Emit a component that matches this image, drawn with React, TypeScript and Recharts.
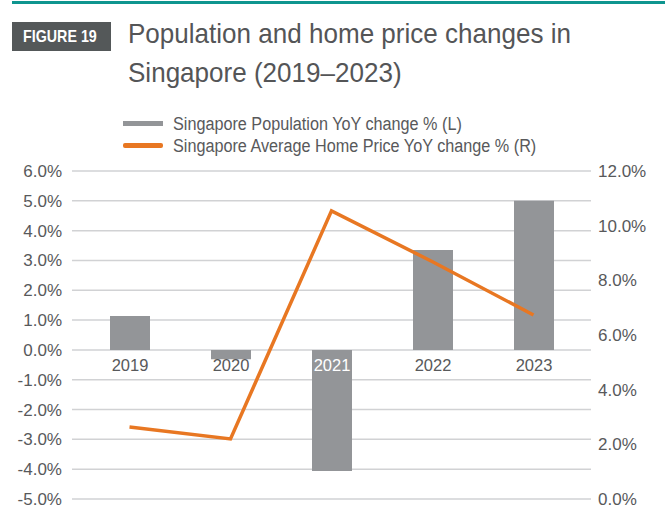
import React from "react";
import {
  ComposedChart,
  Bar,
  Line,
  XAxis,
  YAxis,
  CartesianGrid,
  LabelList,
} from "recharts";

const years = ["2019", "2020", "2021", "2022", "2023"];
const populationChange = [1.14, -0.31, -4.06, 3.35, 5.0];
const homePriceChange = [2.63, 2.2, 10.54, 8.68, 6.73];
const leftTicks = [-5, -4, -3, -2, -1, 0, 1, 2, 3, 4, 5, 6];
const rightTicks = [0, 2, 4, 6, 8, 10, 12];

const data = years.map((year, i) => ({
  year,
  population: populationChange[i],
  price: homePriceChange[i],
}));

const FONT = "'Liberation Sans', Arial, sans-serif";
const TEXT = "#58595b";
const GREY = "#939598";
const ORANGE = "#e87722";

// category names sit just under the zero line, white when inside a bar
function YearLabel(props: any) {
  const { x, y, width, height, index } = props;
  const zeroY = y + height;
  const inside = populationChange[index] < -0.8;
  return (
    <text
      x={x + width / 2}
      y={zeroY + 21}
      textAnchor="middle"
      fill={inside ? "#ffffff" : TEXT}
      fontSize={16.5}
      fontFamily={FONT}
    >
      {years[index]}
    </text>
  );
}

export default function App() {
  return (
    <div
      style={{
        position: "absolute",
        left: 0,
        top: 0,
        width: 665,
        height: 508,
        background: "#fff",
        fontFamily: FONT,
        overflow: "hidden",
      }}
    >
      <div style={{ position: "absolute", left: 12, top: 1, width: 653, height: 3, background: "#0e958f" }} />
      <div
        style={{
          position: "absolute",
          left: 12,
          top: 22,
          width: 99,
          height: 29,
          background: "#545859",
        }}
      />
      <div
        style={{
          position: "absolute",
          left: 23,
          top: 22,
          color: "#fff",
          fontWeight: "bold",
          fontSize: 17,
          lineHeight: "29px",
          whiteSpace: "nowrap",
          transform: "scaleX(0.84)",
          transformOrigin: "0 0",
        }}
      >
        FIGURE 19
      </div>
      <div
        style={{
          position: "absolute",
          left: 128,
          top: 14,
          fontSize: 28,
          lineHeight: "39px",
          color: "#545557",
          whiteSpace: "nowrap",
          transform: "scaleX(0.93)",
          transformOrigin: "0 0",
        }}
      >
        Population and home price changes in
        <br />
        Singapore (2019–2023)
      </div>

      {/* legend */}
      <div style={{ position: "absolute", left: 123, top: 121, width: 40, height: 5, background: GREY }} />
      <div style={{ position: "absolute", left: 123, top: 143, width: 40, height: 5, background: ORANGE, borderRadius: 2 }} />
      <div
        style={{
          position: "absolute",
          left: 173,
          top: 113,
          fontSize: 18,
          lineHeight: "22px",
          color: TEXT,
          whiteSpace: "nowrap",
          transform: "scaleX(0.9)",
          transformOrigin: "0 0",
        }}
      >
        Singapore Population YoY change % (L)
        <br />
        Singapore Average Home Price YoY change % (R)
      </div>

      <div style={{ position: "absolute", left: 0, top: 0 }}>
        <ComposedChart
          width={665}
          height={508}
          data={data}
          margin={{ top: 171, right: 10, bottom: 9, left: 12 }}
          barSize={40}
        >
          <CartesianGrid yAxisId="left" vertical={false} stroke="#d1d2d4" strokeWidth={1.5} />
          <XAxis
            dataKey="year"
            height={0}
            tick={false}
            axisLine={false}
            tickLine={false}
            padding={{ left: 7, right: 7 }}
          />
          <YAxis
            yAxisId="left"
            orientation="left"
            width={60}
            domain={[-5, 6]}
            ticks={leftTicks}
            interval={0}
            axisLine={false}
            tickLine={false}
            tickMargin={4}
            tickFormatter={(v: number) => `${v.toFixed(1)}%`}
            tick={{ fill: TEXT, fontSize: 17, fontFamily: FONT }}
          />
          <YAxis
            yAxisId="right"
            orientation="right"
            width={64}
            domain={[0, 12]}
            ticks={rightTicks}
            interval={0}
            axisLine={false}
            tickLine={false}
            tickMargin={1}
            tickFormatter={(v: number) => `${v.toFixed(1)}%`}
            tick={{ fill: TEXT, fontSize: 17, fontFamily: FONT, textAnchor: "start" }}
          />
          <Bar yAxisId="left" dataKey="population" fill={GREY} isAnimationActive={false}>
            <LabelList dataKey="population" content={<YearLabel />} />
          </Bar>
          <Line
            yAxisId="right"
            type="linear"
            dataKey="price"
            stroke={ORANGE}
            strokeWidth={3.5}
            dot={false}
            isAnimationActive={false}
          />
        </ComposedChart>
      </div>
    </div>
  );
}
